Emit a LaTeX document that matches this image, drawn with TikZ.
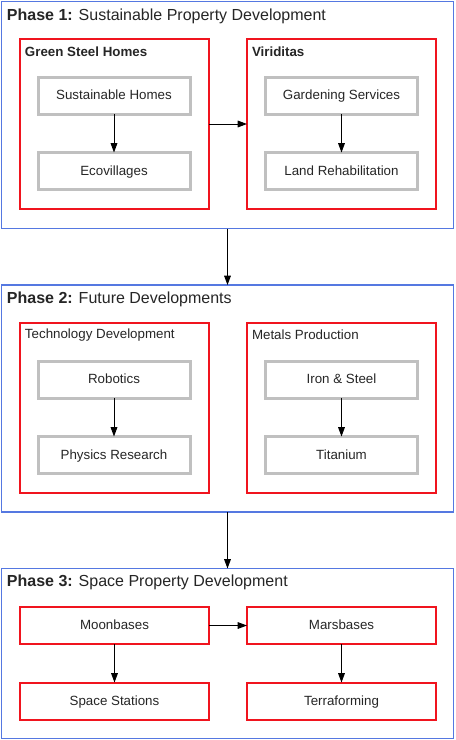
\documentclass[tikz,border=0pt]{standalone}
\usepackage{fontspec}
\setmainfont{Liberation Sans}
\usetikzlibrary{arrows.meta}
\definecolor{phaseblue}{RGB}{85,120,225}
\definecolor{boxred}{RGB}{240,20,30}
\definecolor{boxgray}{RGB}{192,192,192}
\begin{document}
\begin{tikzpicture}[x=0.75pt,y=-0.75pt,
  every node/.style={font=\fontsize{10pt}{12pt}\selectfont, outer sep=0pt, text=black!85},
  phasebox/.style={draw=phaseblue, line width=1.1pt, fill=none, minimum width=452*0.75pt, minimum height=227*0.75pt, inner sep=0pt},
  groupbox/.style={draw=boxred, line width=1.5pt, minimum width=189*0.75pt, minimum height=170*0.75pt, inner sep=0pt},
  itembox/.style={draw=boxgray, line width=2.25pt, minimum width=152*0.75pt, minimum height=37*0.75pt, inner sep=0pt, text height=6.6pt, text depth=0pt},
  spacebox/.style={draw=boxred, line width=1.5pt, minimum width=189*0.75pt, minimum height=37*0.75pt, inner sep=0pt, text height=6.6pt, text depth=0pt},
  phasetitle/.style={anchor=west, inner sep=0pt, font=\fontsize{12pt}{14pt}\selectfont},
  grouptitle/.style={anchor=west, inner sep=0pt},
  arr/.style={-{Triangle[length=7pt,width=5pt]}, line width=0.75pt, black}]
\useasboundingbox (0,0) rectangle (456,740);
\fill[white] (0,0) rectangle (456,740);
% Phase 1
\node[phasebox] (p1) at (227.5,115) {};
\node[phasetitle] (t1) at (7,16) {\textbf{Phase 1:} Sustainable Property Development};
\node[groupbox] (gsh) at (114.5,124) {};
\node[grouptitle] (tgsh) at (25,52) {\textbf{Green Steel Homes}};
\node[groupbox] (vir) at (341.5,124) {};
\node[grouptitle] (tvir) at (252,52) {\textbf{Viriditas}};
\node[itembox] (sh) at (114,95.5) {Sustainable Homes};
\node[itembox] (eco) at (114,171) {Ecovillages};
\node[itembox] (gs) at (341.5,95.5) {Gardening Services};
\node[itembox] (lr) at (341.5,171) {Land Rehabilitation};
\draw[arr] (sh) -- (eco);
\draw[arr] (gs) -- (lr);
\draw[arr] (gsh.east) -- (vir.west);
% Phase 2
\node[phasebox] (p2) at (227.5,398.5) {};
\node[phasetitle] (t2) at (7,299) {\textbf{Phase 2:} Future Developments};
\node[groupbox] (tech) at (114.5,408) {};
\node[grouptitle] (ttech) at (25,335) {Technology Development};
\node[groupbox] (met) at (341.5,408) {};
\node[grouptitle] (tmet) at (252,335) {Metals Production};
\node[itembox] (rob) at (114,379.5) {Robotics};
\node[itembox] (phy) at (114,455) {Physics Research};
\node[itembox] (iron) at (341.5,379.5) {Iron \& Steel};
\node[itembox] (ti) at (341.5,455) {Titanium};
\draw[arr] (rob) -- (phy);
\draw[arr] (iron) -- (ti);
% Phase 3
\node[phasebox, minimum height=170*0.75pt] (p3) at (227.5,653.5) {};
\node[phasetitle] (t3) at (7,582) {\textbf{Phase 3:} Space Property Development};
\node[spacebox] (moon) at (114.5,625.5) {Moonbases};
\node[spacebox] (ss) at (114.5,701) {Space Stations};
\node[spacebox] (mars) at (341.5,625.5) {Marsbases};
\node[spacebox] (terra) at (341.5,701) {Terraforming};
\draw[arr] (moon) -- (ss);
\draw[arr] (mars) -- (terra);
\draw[arr] (moon.east) -- (mars.west);
% Phase links
\draw[arr] (p1.south) -- (p2.north);
\draw[arr] (p2.south) -- (p3.north);
\end{tikzpicture}
\end{document}
